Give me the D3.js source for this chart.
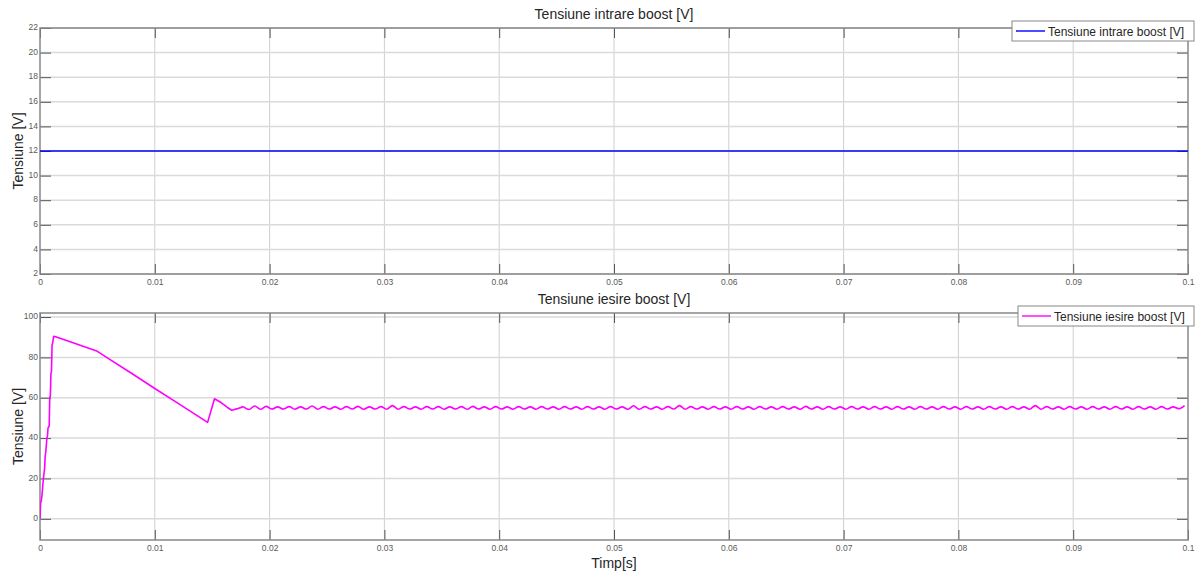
<!DOCTYPE html>
<meta charset="utf-8">
<style>
  body { margin: 0; background: #fff; font-family: "Liberation Sans", Arial, Helvetica, sans-serif; }
  .grid line { stroke: #d0d0d0; stroke-width: 1; }
  .tick text { fill: #5a5a5a; font-size: 8.5px; }
  .title { font-size: 14px; fill: #262626; text-anchor: middle; }
  .lbl { font-size: 14px; fill: #262626; text-anchor: middle; }
</style>
<body>
<svg id="chart" width="1198" height="573"></svg>
<script src="https://d3js.org/d3.v7.min.js"></script>
<script>
// data
var inT = [0, 0.1];
var inV = [12, 12];

// start-up transient of the output voltage
var outT = [0, 0.00005, 0.0001, 0.00018, 0.00025, 0.0003, 0.0004, 0.00045, 0.0005, 0.0006, 0.00065, 0.0007, 0.0008,
  0.00085, 0.0009, 0.00095, 0.001, 0.00105, 0.0011, 0.00115, 0.0012, 0.0013, 0.002, 0.003, 0.004, 0.005, 0.0058,
  0.008, 0.010, 0.012, 0.0146, 0.0152, 0.0158, 0.0163, 0.0167, 0.0172, 0.0177];
var outV = [0, 8, 8.5, 12, 17, 20, 25, 31, 33, 40, 41, 45, 46, 60, 61, 72, 73, 86, 87, 89, 90.4, 90.3, 89, 87, 85, 83, 80,
  72, 64.6, 57.3, 47.8, 59.5, 57.5, 55.3, 53.8, 54.6, 55.6];

// steady-state ripple, one sample every half period from t = 0.0177 s
var rippleStart = 0.0177, rippleStep = 0.0005;
var rippleV = [
  55.6, 54.2, 55.9, 54.3, 55.7, 54.4, 55.5, 54.4, 55.6, 54.3, 55.5, 54.4, 55.9, 54.3, 55.6, 54.4, 55.5, 54.3, 55.6, 54.4,
  55.7, 54.3, 55.5, 54.4, 55.6, 54.3, 56.1, 54.3, 55.6, 54.4, 55.5, 54.3, 55.6, 54.4, 55.6, 54.3, 55.5, 54.4, 55.6, 54.3,
  55.7, 54.4, 55.5, 54.3, 55.6, 54.4, 55.5, 54.3, 55.6, 54.4, 55.5, 54.3, 55.6, 54.4, 55.5, 54.3, 55.6, 54.4, 55.5, 54.3,
  55.6, 54.4, 55.5, 54.3, 55.6, 54.4, 55.5, 54.3, 56.0, 54.3, 55.6, 54.4, 55.5, 54.3, 55.6, 54.4, 56.1, 54.3, 55.6, 54.4,
  55.5, 54.3, 55.6, 54.4, 55.5, 54.3, 55.6, 54.4, 55.5, 54.3, 55.6, 54.4, 55.5, 54.3, 55.6, 54.4, 55.5, 54.3, 55.7, 54.4,
  55.5, 54.3, 55.6, 54.4, 55.5, 54.3, 55.6, 54.4, 55.5, 54.3, 55.6, 54.4, 55.5, 54.3, 55.6, 54.4, 55.5, 54.3, 55.6, 54.4,
  55.5, 54.3, 55.6, 54.4, 55.5, 54.3, 55.6, 54.4, 55.5, 54.3, 55.6, 54.4, 55.5, 54.3, 55.6, 54.4, 55.5, 54.3, 56.1, 54.3,
  55.6, 54.4, 55.5, 54.3, 55.6, 54.4, 55.5, 54.3, 55.6, 54.4, 55.5, 54.3, 55.6, 54.4, 55.5, 54.3, 55.6, 54.4, 55.5, 54.3,
  55.6, 54.4, 55.5, 54.6, 56.1
];

var xTicks = [0, 0.01, 0.02, 0.03, 0.04, 0.05, 0.06, 0.07, 0.08, 0.09, 0.1];
var xTickLabels = ["0", "0.01", "0.02", "0.03", "0.04", "0.05", "0.06", "0.07", "0.08", "0.09", "0.1"];
var topYTicks = [2, 4, 6, 8, 10, 12, 14, 16, 18, 20, 22];
var botYTicks = [0, 20, 40, 60, 80, 100];

var svg = d3.select("#chart");
var x = d3.scaleLinear().domain([0, 0.1]).range([40, 1188]);
var nPanel = 0;

function panel(opts) {
  var y = d3.scaleLinear().domain(opts.yDomain).range([opts.bottom, opts.top]);
  var g = svg.append("g");
  var clipId = "clip" + (nPanel++);
  g.append("clipPath").attr("id", clipId).append("rect")
    .attr("x", 40).attr("y", opts.top).attr("width", 1148).attr("height", opts.bottom - opts.top);

  // grid
  var grid = g.append("g").attr("class", "grid");
  grid.selectAll(".gx").data(xTicks.slice(1, -1)).enter().append("line")
    .attr("x1", function (d) { return x(d); }).attr("x2", function (d) { return x(d); })
    .attr("y1", opts.top).attr("y2", opts.bottom).style("stroke", "#cfcfcf");
  grid.selectAll(".gy").data(opts.yTicks).enter().append("line")
    .attr("x1", 40).attr("x2", 1188)
    .attr("y1", function (d) { return y(d); }).attr("y2", function (d) { return y(d); })
    .style("stroke", "#dadada").style("stroke-width", 1.5);

  // axes
  var ax = g.append("g").attr("transform", "translate(0," + opts.bottom + ")")
    .call(d3.axisBottom(x).tickValues(xTicks).tickSize(-10).tickPadding(5)
      .tickFormat(function (d, i) { return xTickLabels[i]; }));
  var ay = g.append("g").attr("transform", "translate(40,0)")
    .call(d3.axisLeft(y).tickValues(opts.yTicks).tickSize(-11).tickPadding(2));
  var ar = g.append("g").attr("transform", "translate(1188,0)")
    .call(d3.axisRight(y).tickValues(opts.yTicks).tickSize(-11).tickFormat(""));
  var at = g.append("g").attr("transform", "translate(0," + opts.top + ")")
    .call(d3.axisTop(x).tickValues(xTicks).tickSize(-10).tickFormat(""));
  [ax, ay, ar, at].forEach(function (a) {
    a.select(".domain").remove();
    a.selectAll(".tick line").style("stroke", "#555").style("stroke-width", 1);
    a.selectAll(".tick text").style("font-family", "Liberation Sans, Arial, sans-serif");
  });
  ay.selectAll(".tick text").attr("dy", "0.2em");

  // box
  g.append("rect").attr("x", 40).attr("y", opts.top)
    .attr("width", 1148).attr("height", opts.bottom - opts.top)
    .style("fill", "none").style("stroke", "#888").style("stroke-width", 1.5);

  // series (each piece may use its own curve)
  opts.pieces.forEach(function (p) {
    var line = d3.line()
      .x(function (d) { return x(d[0]); })
      .y(function (d) { return y(d[1]); })
      .curve(p.curve || d3.curveLinear);
    g.append("path").datum(p.pts)
      .attr("d", line)
      .attr("clip-path", "url(#" + clipId + ")")
      .style("fill", "none").style("stroke", opts.color).style("stroke-width", 1.6)
      .style("stroke-linejoin", "round");
  });

  // title + y label
  g.append("text").attr("class", "title").attr("x", 614).attr("y", opts.top - 9).text(opts.title);
  g.append("text").attr("class", "lbl")
    .attr("transform", "translate(23," + ((opts.top + opts.bottom) / 2) + ")rotate(-90)")
    .text("Tensiune [V]");

  // legend
  var lg = g.append("g").attr("transform", "translate(" + opts.legX + "," + (opts.top - 7) + ")");
  lg.append("rect").attr("width", 1194 - opts.legX).attr("height", 20)
    .style("fill", "#fff").style("stroke", "#888").style("stroke-width", 1);
  lg.append("line").attr("x1", 4).attr("x2", 33).attr("y1", 10).attr("y2", 10)
    .style("stroke", opts.color).style("stroke-width", 1.4);
  lg.append("text").attr("x", 36).attr("y", 14.5).style("font-size", "12px").style("fill", "#262626")
    .text(opts.title);
}

var inPts = inT.map(function (t, i) { return [t, inV[i]]; });
var outPts = outT.map(function (t, i) { return [t, outV[i]]; });
var ripplePts = rippleV.map(function (v, i) { return [rippleStart + i * rippleStep, v]; });

panel({ top: 28, bottom: 274, yDomain: [2, 22], yTicks: topYTicks, pieces: [{ pts: inPts }],
  color: "#0000ff", title: "Tensiune intrare boost [V]", legX: 1012 });
panel({ top: 313, bottom: 540, yDomain: [-10.5, 102], yTicks: botYTicks,
  pieces: [{ pts: outPts }, { pts: ripplePts, curve: d3.curveMonotoneX }],
  color: "#ff00ff", title: "Tensiune iesire boost [V]", legX: 1018 });

svg.append("text").attr("class", "lbl").attr("x", 614).attr("y", 568).text("Timp[s]");
</script>
</body>
